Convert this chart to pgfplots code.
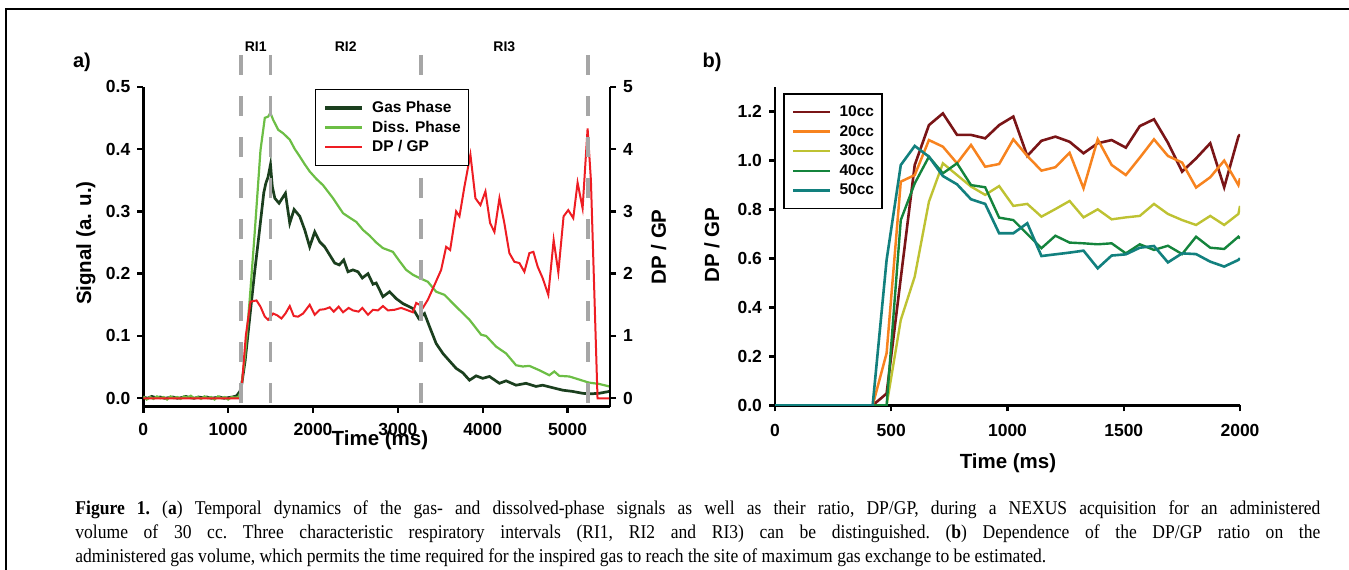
\documentclass[border=0pt]{standalone}
\usepackage{fontspec}
\setmainfont{Liberation Sans}
\newfontfamily\capfont[FakeStretch=0.9]{Liberation Serif}
\usepackage{pgfplots}
\pgfplotsset{compat=1.18}

\definecolor{gasc}{HTML}{1B3F1E}
\definecolor{dissc}{HTML}{6CBE45}
\definecolor{ratioc}{HTML}{EE1D23}
\definecolor{dashc}{HTML}{A6A6A6}
\definecolor{c10}{HTML}{7A1517}
\definecolor{c20}{HTML}{F7831F}
\definecolor{c30}{HTML}{BEC232}
\definecolor{c40}{HTML}{14843C}
\definecolor{c50}{HTML}{12807E}

\tikzset{
  legbox/.style={
    draw=black, line width=0.7pt, fill=white,
    inner xsep=4pt, inner ysep=5.5pt, row sep=2.25pt, column sep=4pt,
    nodes={inner sep=0pt, text height=6pt, text depth=1.5pt,
      font=\bfseries\fontsize{7.75}{9}\selectfont},
  },
  dashv/.style={dashc, line width=1.75pt, dash pattern=on 10pt off 10.5pt},
}
\pgfplotsset{
  chartbase/.style={
    scale only axis,
    tick align=outside,
    major tick length=3pt,
    tick style={black, line width=1.2pt},
    axis line style={black, line width=1.3pt, -},
    tick label style={font=\bfseries\fontsize{8.75}{10}\selectfont},
    label style={font=\bfseries\fontsize{10.25}{12}\selectfont},
    /pgf/number format/assume math mode=true,
    /pgf/number format/set thousands separator={},
    legend cell align=left,
    legend image code/.code={\draw[##1] (0pt,0pt) -- (18.5pt,0pt);},
  },
}

\begin{document}
\begin{tikzpicture}[x=0.5pt,y=0.5pt]
\useasboundingbox (0,0) rectangle (1349,569);
\draw[line width=0.75pt] (6,-5) -- (6,560) -- (1355,560);

% ---------- panel a ----------
\begin{axis}[chartbase, at={(71.65pt,81.25pt)}, anchor=south west,
  width=233.35pt, height=159.9pt,
  xmin=0, xmax=5500, ymin=-0.0132, ymax=0.5,
  axis x line*=bottom, axis y line*=left,
  xtick={0,1000,2000,3000,4000,5000},
  ytick={0,0.1,0.2,0.3,0.4,0.5},
  xticklabel shift=2pt,
  yticklabel style={/pgf/number format/.cd, fixed, fixed zerofill, precision=1},
  xlabel={Time (ms)}, ylabel={Signal (a. u.)},
  xlabel style={at={(axis description cs:0.507,-0.104)}, anchor=center},
  ylabel style={at={(axis description cs:-0.1228,0.511)}, anchor=center},
]
\addplot[gasc, line width=1.35pt] coordinates {
(0,0.002) (50,0.000) (100,0.003) (150,0.001) (200,0.002) (250,0.000) (300,0.001)
(350,0.002) (400,0.000) (450,0.001) (500,0.003) (550,0.001) (600,0.000) (650,0.002)
(700,0.001) (750,0.002) (800,0.000) (850,0.001) (900,0.002) (950,0.000) (1000,0.001)
(1050,0.002) (1100,0.004) (1138,0.011) (1157,0.02) (1200,0.06) (1255,0.13) (1310,0.2)
(1370,0.27) (1420,0.33) (1444,0.345) (1470,0.355) (1499,0.375) (1520,0.34) (1550,0.321)
(1600,0.313) (1675,0.329) (1726,0.281) (1777,0.303) (1844,0.292) (1903,0.27) (1961,0.243)
(2020,0.267) (2079,0.251) (2138,0.243) (2197,0.23) (2256,0.217) (2310,0.214) (2362,0.222)
(2412,0.203) (2471,0.206) (2530,0.203) (2581,0.193) (2648,0.2) (2707,0.183) (2745,0.185)
(2824,0.163) (2902,0.171) (2980,0.16) (3059,0.152) (3177,0.144) (3247,0.128) (3314,0.136)
(3373,0.115) (3451,0.088) (3530,0.072) (3608,0.06) (3687,0.048) (3765,0.041) (3844,0.029)
(3922,0.036) (4000,0.032) (4079,0.035) (4197,0.024) (4275,0.028) (4393,0.021) (4510,0.024)
(4628,0.019) (4706,0.021) (4824,0.017) (4942,0.013) (5059,0.011) (5177,0.008) (5255,0.007)
(5373,0.008) (5491,0.011)
};
\addplot[dissc, line width=1.1pt] coordinates {
(0,0.003) (40,-0.002) (80,0.002) (120,-0.001) (160,0.003) (200,0.0) (240,0.002) (280,-0.002)
(320,0.003) (360,0.0) (400,0.002) (440,-0.001) (480,0.003) (520,0.001) (560,0.004) (600,0.0)
(640,0.002) (680,-0.001) (720,0.003) (760,0.0) (800,0.002) (840,-0.002) (880,0.003) (920,0.0)
(960,0.002) (1000,-0.002) (1040,0.002) (1080,0.001) (1120,0.002) (1150,0.011)
(1200,0.07) (1255,0.16) (1310,0.26) (1381,0.398) (1432,0.45) (1471,0.452) (1498,0.458)
(1530,0.447) (1589,0.431) (1650,0.425) (1726,0.415) (1785,0.40) (1844,0.388) (1900,0.376)
(1961,0.364) (2040,0.352) (2118,0.342) (2236,0.321) (2354,0.297) (2430,0.29) (2510,0.283)
(2590,0.27) (2667,0.261) (2745,0.25) (2824,0.241) (2941,0.235) (3020,0.22) (3098,0.206)
(3180,0.198) (3255,0.193) (3353,0.187) (3451,0.171) (3549,0.166) (3687,0.147) (3844,0.126)
(3981,0.102) (4040,0.1) (4157,0.083) (4275,0.072) (4393,0.053) (4471,0.051) (4550,0.052)
(4667,0.045) (4785,0.037) (4844,0.043) (4902,0.036) (5020,0.035) (5138,0.03) (5255,0.025)
(5373,0.023) (5491,0.019)
};
\end{axis}

\begin{axis}[chartbase, at={(71.65pt,81.25pt)}, anchor=south west,
  width=233.35pt, height=159.9pt,
  xmin=0, xmax=5500, ymin=-0.132, ymax=5,
  axis x line=none, axis y line*=right, clip=false,
  ytick={0,1,2,3,4,5},
  ylabel={DP / GP},
  ylabel style={at={(axis description cs:1.104,0.499)}, anchor=center},
  legend style={legbox, at={(rel axis cs:0.368,0.993)}, anchor=north west},
]
\addlegendimage{gasc, line width=1.75pt}\addlegendentry{Gas Phase}
\addlegendimage{dissc, line width=1.3pt}\addlegendentry{Diss. Phase}
\addplot[ratioc, line width=1pt] coordinates {
(0,0) (1150,0) (1157,0.13) (1208,1.0) (1263,1.55) (1334,1.57) (1381,1.47) (1432,1.31)
(1471,1.26) (1530,1.36) (1580,1.33) (1628,1.28) (1675,1.36) (1726,1.48) (1773,1.32)
(1824,1.31) (1883,1.36) (1961,1.5) (2020,1.34) (2079,1.42) (2138,1.43) (2197,1.46)
(2244,1.39) (2303,1.47) (2354,1.38) (2420,1.45) (2471,1.41) (2538,1.39) (2581,1.45)
(2648,1.34) (2707,1.42) (2765,1.41) (2824,1.48) (2883,1.41) (2960,1.42) (3039,1.45)
(3100,1.42) (3177,1.38) (3216,1.53) (3255,1.5) (3294,1.45) (3353,1.58) (3432,1.82)
(3510,2.06) (3569,2.43) (3616,2.38) (3687,3.0) (3726,2.92) (3785,3.4) (3855,3.91)
(3914,3.21) (3973,3.1) (4032,3.32) (4087,2.81) (4138,2.67) (4197,3.21) (4255,2.81)
(4314,2.33) (4373,2.19) (4432,2.17) (4491,2.03) (4550,2.33) (4597,2.35) (4648,2.11)
(4706,1.93) (4773,1.66) (4836,2.54) (4891,2.02) (4953,2.92) (5008,3.02) (5067,2.89)
(5118,3.46) (5177,3.05) (5236,4.33) (5275,3.5) (5353,0.0) (5491,0)
};
\addlegendentry{DP / GP}
\draw[dashv] (axis cs:1150,5.51) -- (axis cs:1150,-0.156);
\draw[dashv] (axis cs:1500,5.51) -- (axis cs:1500,-0.156);
\draw[dashv] (axis cs:3270,5.51) -- (axis cs:3270,-0.156);
\draw[dashv] (axis cs:5240,5.51) -- (axis cs:5240,-0.156);
\node[font=\bfseries\fontsize{7}{8}\selectfont] at (axis cs:1325,5.644) {RI1};
\node[font=\bfseries\fontsize{7}{8}\selectfont] at (axis cs:2385,5.644) {RI2};
\node[font=\bfseries\fontsize{7}{8}\selectfont] at (axis cs:4255,5.644) {RI3};
\end{axis}

\node[font=\bfseries\fontsize{10}{12}\selectfont] at (82,507) {a)};
\node[font=\bfseries\fontsize{10}{12}\selectfont] at (712,507) {b)};

% ---------- panel b ----------
\begin{axis}[chartbase, at={(387.5pt,81.85pt)}, anchor=south west,
  width=232.5pt, height=159.05pt,
  xmin=0, xmax=2000, ymin=0, ymax=1.3,
  axis x line*=bottom, axis y line*=left,
  xtick={0,500,1000,1500,2000},
  ytick={0,0.2,0.4,0.6,0.8,1.0,1.2},
  xticklabel shift=3pt,
  yticklabel style={/pgf/number format/.cd, fixed, fixed zerofill, precision=1},
  xlabel={Time (ms)}, ylabel={DP / GP},
  xlabel style={at={(axis description cs:0.501,-0.181)}, anchor=center},
  ylabel style={at={(axis description cs:-0.1355,0.504)}, anchor=center},
  legend style={legbox, row sep=2.3pt, inner ysep=5.3pt,
    at={(rel axis cs:0.0178,0.981)}, anchor=north west},
]
\addplot[c10, line width=1.3pt] coordinates {
(0,0) (420,0) (480,0.048) (541,0.52) (601,0.982) (662,1.145) (722,1.193) (783,1.105)
(843,1.105) (904,1.091) (964,1.145) (1025,1.18) (1085,1.019) (1146,1.081) (1206,1.098)
(1267,1.077) (1327,1.03) (1388,1.071) (1448,1.084) (1509,1.053) (1569,1.141) (1630,1.169)
(1690,1.073) (1751,0.955) (1811,1.009) (1872,1.071) (1932,0.891) (1993,1.098) (2000,1.107)
};
\addlegendentry{10cc}
\addplot[c20, line width=1.25pt] coordinates {
(0,0) (420,0) (480,0.213) (541,0.914) (601,0.941) (662,1.084) (722,1.057) (783,0.989)
(843,1.064) (904,0.975) (964,0.986) (1025,1.087) (1085,1.019) (1146,0.959) (1206,0.973)
(1267,1.032) (1327,0.887) (1388,1.087) (1448,0.982) (1509,0.941) (1569,1.012) (1630,1.087)
(1690,1.019) (1751,0.992) (1811,0.89) (1872,0.932) (1932,1.0) (1993,0.9) (2000,0.928)
};
\addlegendentry{20cc}
\addplot[c30, line width=1.2pt] coordinates {
(0,0) (480,0) (541,0.349) (601,0.526) (662,0.832) (722,0.989) (783,0.941) (843,0.894)
(904,0.86) (964,0.896) (1025,0.815) (1085,0.823) (1146,0.771) (1206,0.802) (1267,0.835)
(1327,0.768) (1388,0.801) (1448,0.76) (1509,0.768) (1569,0.774) (1630,0.823) (1690,0.782)
(1751,0.757) (1811,0.737) (1872,0.774) (1932,0.737) (1993,0.782) (2000,0.815)
};
\addlegendentry{30cc}
\addplot[c40, line width=1.2pt] coordinates {
(0,0) (480,0) (541,0.757) (601,0.907) (662,1.016) (722,0.948) (783,0.989) (843,0.9)
(904,0.891) (964,0.767) (1025,0.757) (1085,0.70) (1146,0.642) (1206,0.693) (1267,0.665)
(1327,0.662) (1388,0.658) (1448,0.662) (1509,0.621) (1569,0.658) (1630,0.635) (1690,0.652)
(1751,0.618) (1811,0.689) (1872,0.644) (1932,0.639) (1993,0.689) (2000,0.682)
};
\addlegendentry{40cc}
\addplot[c50, line width=1.3pt] coordinates {
(0,0) (420,0) (480,0.594) (541,0.982) (601,1.06) (662,1.016) (722,0.937) (783,0.903)
(843,0.842) (904,0.823) (964,0.703) (1025,0.703) (1085,0.744) (1146,0.61) (1206,0.617)
(1267,0.624) (1327,0.632) (1388,0.56) (1448,0.612) (1509,0.617) (1569,0.644) (1630,0.651)
(1690,0.584) (1751,0.621) (1811,0.618) (1872,0.587) (1932,0.567) (1993,0.594) (2000,0.601)
};
\addlegendentry{50cc}
\end{axis}

% ---------- caption ----------
\node[anchor=north west, inner sep=0pt, text width=622.5pt, align=justify]
  at (75,69) {\capfont\fontsize{9.75}{10.75}\selectfont\frenchspacing
  \textbf{Figure 1.} (\textbf{a}) Temporal dynamics of the gas- and dissolved-phase signals as well as their ratio, DP/GP, during a NEXUS acquisition for an administered\linebreak
  volume of 30 cc. Three characteristic respiratory intervals (RI1, RI2 and RI3) can be distinguished. (\textbf{b}) Dependence of the DP/GP ratio on the\linebreak
  administered gas volume, which permits the time required for the inspired gas to reach the site of maximum gas exchange to be estimated.};
\end{tikzpicture}
\end{document}
